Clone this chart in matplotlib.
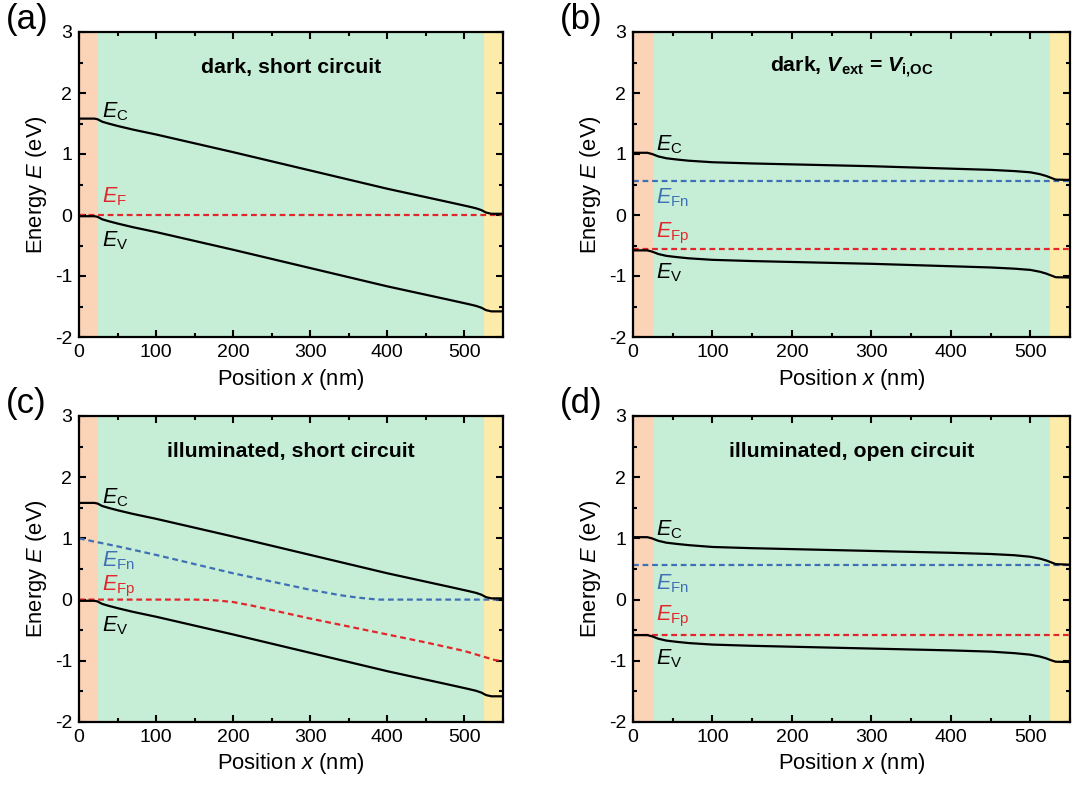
import numpy as np
import matplotlib
matplotlib.use('Agg')
import matplotlib.pyplot as plt
from matplotlib.ticker import MultipleLocator

plt.rcParams['font.family'] = ['Liberation Sans', 'DejaVu Sans']
plt.rcParams['mathtext.fontset'] = 'custom'
plt.rcParams['mathtext.rm'] = 'Liberation Sans'
plt.rcParams['mathtext.it'] = 'Liberation Sans:italic'
plt.rcParams['mathtext.bf'] = 'Liberation Sans:bold'
plt.rcParams['mathtext.bfit'] = 'Liberation Sans:bold:italic'
plt.rcParams['axes.unicode_minus'] = False

# layer boundaries (nm)
layers = [(0, 25), (25, 525), (525, 550)]
layer_colors = ['#FBD3B6', '#C6EED6', '#FDECA9']

# (a) / (c): short circuit band edges
x_sc = [0, 20, 24, 30, 38, 50, 70, 100, 200, 300, 400, 480, 505, 515, 522, 528, 535, 550]
ec_sc = [1.58, 1.58, 1.57, 1.53, 1.50, 1.46, 1.40, 1.32, 1.03, 0.73, 0.43, 0.21, 0.14, 0.11, 0.08, 0.04, 0.02, 0.02]
ev_sc = [-0.02, -0.02, -0.03, -0.07, -0.10, -0.14, -0.20, -0.28, -0.57, -0.87, -1.17, -1.39, -1.46, -1.49, -1.52, -1.56, -1.58, -1.58]

# (b) / (d): near open-circuit band edges
x_oc = [0, 18, 24, 32, 42, 55, 70, 100, 150, 200, 250, 300, 350, 400, 450, 480, 500, 512, 520, 526, 532, 550]
ec_b = [1.02, 1.02, 1.00, 0.96, 0.93, 0.91, 0.89, 0.865, 0.845, 0.83, 0.815, 0.80, 0.78, 0.76, 0.74, 0.72, 0.70, 0.67, 0.64, 0.61, 0.58, 0.575]
ev_b = [-0.58, -0.58, -0.60, -0.64, -0.67, -0.69, -0.71, -0.735, -0.755, -0.77, -0.785, -0.80, -0.82, -0.84, -0.86, -0.88, -0.90, -0.93, -0.96, -0.99, -1.02, -1.025]
ec_d = [1.02, 1.02, 1.00, 0.96, 0.93, 0.91, 0.89, 0.86, 0.84, 0.825, 0.81, 0.795, 0.78, 0.765, 0.745, 0.725, 0.70, 0.67, 0.64, 0.61, 0.58, 0.57]
ev_d = [-0.58, -0.58, -0.60, -0.64, -0.67, -0.69, -0.71, -0.735, -0.755, -0.77, -0.785, -0.80, -0.815, -0.83, -0.85, -0.875, -0.90, -0.93, -0.96, -0.99, -1.015, -1.02]

x_flat = [0, 550]
ef_a = [0.0, 0.0]
efn_b = [0.565, 0.565]
efp_b = [-0.565, -0.565]
efn_d = [0.56, 0.56]
efp_d = [-0.575, -0.575]

# (c): quasi Fermi levels under illumination
x_efn_c = [0, 50, 100, 200, 300, 340, 360, 375, 390, 550]
efn_c = [1.0, 0.87, 0.73, 0.43, 0.16, 0.07, 0.035, 0.015, 0.0, 0.0]
x_efp_c = [0, 150, 165, 180, 200, 225, 250, 300, 400, 450, 500, 540, 550]
efp_c = [0.0, 0.0, -0.005, -0.015, -0.04, -0.10, -0.17, -0.31, -0.57, -0.70, -0.84, -0.99, -1.0]

titles = ['dark, short circuit',
          r'dark, $\mathbfit{V}_{\mathbf{ext}}$ = $\mathbfit{V}_{\mathbf{i{,}OC}}$',
          'illuminated, short circuit',
          'illuminated, open circuit']
panel_tags = ['(a)', '(b)', '(c)', '(d)']

RED = '#E3262B'
BLUE = '#3F6FB5'

fig = plt.figure(figsize=(10.76, 7.85), dpi=100)
rects = [
    [79 / 1076, 1 - 337 / 785, 424 / 1076, 305 / 785],
    [633 / 1076, 1 - 337 / 785, 437 / 1076, 305 / 785],
    [79 / 1076, 1 - 722 / 785, 424 / 1076, 306 / 785],
    [633 / 1076, 1 - 722 / 785, 437 / 1076, 306 / 785],
]
axes = [fig.add_axes(r) for r in rects]

dash = (0, (2.6, 1.7))
for i, ax in enumerate(axes):
    for (x0, x1), c in zip(layers, layer_colors):
        ax.axvspan(x0, x1, color=c, lw=0, zorder=0)
    ax.set_xlim(0, 550)
    ax.set_ylim(-2, 3)
    ax.xaxis.set_major_locator(MultipleLocator(100))
    ax.xaxis.set_minor_locator(MultipleLocator(50))
    ax.yaxis.set_major_locator(MultipleLocator(1))
    ax.yaxis.set_minor_locator(MultipleLocator(0.5))
    ax.tick_params(which='both', direction='in', top=True, right=True, width=1.5, labelsize=14)
    ax.tick_params(which='major', length=5, pad=5)
    ax.tick_params(which='minor', length=3)
    for s in ax.spines.values():
        s.set_linewidth(1.6)
    ax.set_xlabel('Position $x$ (nm)', fontsize=15.8, labelpad=4)
    ax.set_ylabel('Energy $E$ (eV)', fontsize=15.8, labelpad=4)
    ax.text(0.5, 0.885, titles[i], transform=ax.transAxes, ha='center', va='center',
            fontsize=15.3, fontweight='bold')

lw = 1.6
fs = 15.5
# (a)
ax = axes[0]
ax.plot(x_flat, ef_a, color=RED, lw=lw, ls=dash, zorder=2)
ax.plot(x_sc, ec_sc, color='k', lw=lw, zorder=3)
ax.plot(x_sc, ev_sc, color='k', lw=lw, zorder=3)
ax.text(30, 1.69, r'$E_\mathrm{C}$', fontsize=fs, va='center')
ax.text(30, 0.30, r'$E_\mathrm{F}$', fontsize=fs, va='center', color=RED)
ax.text(30, -0.42, r'$E_\mathrm{V}$', fontsize=fs, va='center')

# (b)
ax = axes[1]
ax.plot(x_flat, efn_b, color=BLUE, lw=lw, ls=dash, zorder=2)
ax.plot(x_flat, efp_b, color=RED, lw=lw, ls=dash, zorder=2)
ax.plot(x_oc, ec_b, color='k', lw=lw, zorder=3)
ax.plot(x_oc, ev_b, color='k', lw=lw, zorder=3)
ax.text(29, 1.15, r'$E_\mathrm{C}$', fontsize=fs, va='center')
ax.text(29, 0.28, r'$E_\mathrm{Fn}$', fontsize=fs, va='center', color=BLUE)
ax.text(29, -0.30, r'$E_\mathrm{Fp}$', fontsize=fs, va='center', color=RED)
ax.text(29, -0.95, r'$E_\mathrm{V}$', fontsize=fs, va='center')

# (c)
ax = axes[2]
ax.plot(x_efn_c, efn_c, color=BLUE, lw=lw, ls=dash, zorder=2)
ax.plot(x_efp_c, efp_c, color=RED, lw=lw, ls=dash, zorder=2)
ax.plot(x_sc, ec_sc, color='k', lw=lw, zorder=3)
ax.plot(x_sc, ev_sc, color='k', lw=lw, zorder=3)
ax.text(30, 1.67, r'$E_\mathrm{C}$', fontsize=fs, va='center')
ax.text(30, 0.64, r'$E_\mathrm{Fn}$', fontsize=fs, va='center', color=BLUE)
ax.text(30, 0.22, r'$E_\mathrm{Fp}$', fontsize=fs, va='center', color=RED)
ax.text(30, -0.42, r'$E_\mathrm{V}$', fontsize=fs, va='center')

# (d)
ax = axes[3]
ax.plot(x_flat, efn_d, color=BLUE, lw=lw, ls=dash, zorder=2)
ax.plot(x_flat, efp_d, color=RED, lw=lw, ls=dash, zorder=2)
ax.plot(x_oc, ec_d, color='k', lw=lw, zorder=3)
ax.plot(x_oc, ev_d, color='k', lw=lw, zorder=3)
ax.text(29, 1.15, r'$E_\mathrm{C}$', fontsize=fs, va='center')
ax.text(29, 0.26, r'$E_\mathrm{Fn}$', fontsize=fs, va='center', color=BLUE)
ax.text(29, -0.28, r'$E_\mathrm{Fp}$', fontsize=fs, va='center', color=RED)
ax.text(29, -0.97, r'$E_\mathrm{V}$', fontsize=fs, va='center')

tag_pos = [(6, 20), (560, 20), (6, 403), (560, 403)]
for tag, (px, py) in zip(panel_tags, tag_pos):
    fig.text(px / 1076, 1 - py / 785, tag, fontsize=25, ha='left', va='center')

fig.savefig('out.png', dpi=100)
